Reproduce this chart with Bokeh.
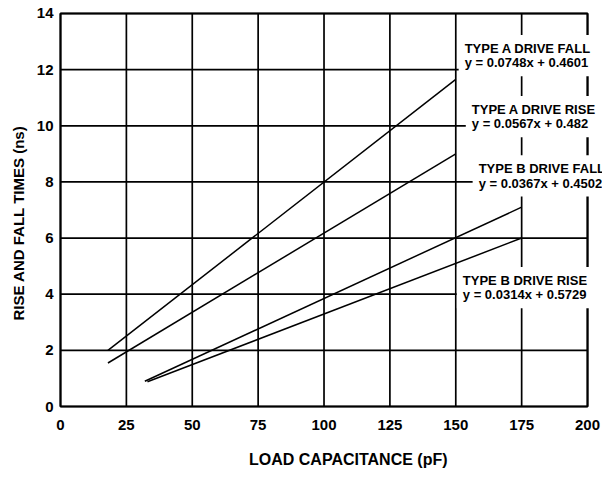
import math
from bokeh.plotting import figure
from bokeh.models import Range1d, FixedTicker, Label, Title, BoxAnnotation
from bokeh.embed import file_html
from bokeh.resources import INLINE

# ---- data ----
x_type_a = [18, 150]
a_fall = [2.0, 11.65]
a_rise = [1.55, 9.0]
x_type_b_fall = [32, 175]
b_fall = [0.90, 7.1]
x_type_b_rise = [33, 175]
b_rise = [0.88, 6.0]

x_ticks = [0, 25, 50, 75, 100, 125, 150, 175, 200]
y_ticks = [0, 2, 4, 6, 8, 10, 12, 14]

labels = [
    ("TYPE A DRIVE FALL", "y = 0.0748x + 0.4601", 151.1, 13.23),
    ("TYPE A DRIVE RISE", "y = 0.0567x + 0.482", 153.8, 11.06),
    ("TYPE B DRIVE FALL", "y = 0.0367x + 0.4502", 156.4, 8.95),
    ("TYPE B DRIVE RISE", "y = 0.0314x + 0.5729", 150.4, 4.97),
]

x_title = "LOAD CAPACITANCE (pF)"
y_title = "RISE AND FALL TIMES (ns)"

FONT = "Liberation Sans"

p = figure(width=602, height=477, output_backend="svg", toolbar_location=None,
           x_range=Range1d(-0.76, 205.68), y_range=Range1d(-0.071, 14.071),
           min_border_left=57, min_border_right=0, min_border_top=11, min_border_bottom=69)
p.background_fill_color = "white"
p.border_fill_color = "white"
p.outline_line_color = None

p.xaxis.ticker = FixedTicker(ticks=x_ticks)
p.yaxis.ticker = FixedTicker(ticks=y_ticks)
for ax in (p.xaxis, p.yaxis):
    ax.axis_line_color = None
    ax.major_tick_line_color = None
    ax.minor_tick_line_color = None
    ax.major_tick_out = 0
    ax.major_tick_in = 0
    ax.major_label_text_font = FONT
    ax.major_label_text_font_style = "bold"
    ax.major_label_text_font_size = "15px"
    ax.major_label_text_color = "black"
p.xaxis.major_label_standoff = 11
p.yaxis.major_label_standoff = 5

# x-axis title (shifted right of centre as in the reference, via leading no-break spaces)
p.xaxis.axis_label = "\u00a0" * 8 + x_title
p.xaxis.axis_label_standoff = 18
p.xaxis.axis_label_text_font = FONT
p.xaxis.axis_label_text_font_style = "bold"
p.xaxis.axis_label_text_font_size = "16px"
p.xaxis.axis_label_text_color = "black"

p.xgrid.visible = False
p.ygrid.visible = False

# grid lines limited to the data area (0..200, 0..14)
y_lo, y_hi = y_ticks[0], y_ticks[-1]
x_lo, x_hi = x_ticks[0], x_ticks[-1]
p.segment(x0=x_ticks, y0=[y_lo] * len(x_ticks), x1=x_ticks, y1=[y_hi] * len(x_ticks),
          line_color="black", line_width=1.7)
p.segment(x0=[x_lo] * len(y_ticks), y0=y_ticks, x1=[x_hi] * len(y_ticks), y1=y_ticks,
          line_color="black", line_width=1.7)

for xs, ys in ((x_type_a, a_fall), (x_type_a, a_rise),
               (x_type_b_fall, b_fall), (x_type_b_rise, b_rise)):
    p.line(xs, ys, line_color="black", line_width=1.5)

p.add_layout(BoxAnnotation(left=x_lo, right=x_hi, bottom=y_lo, top=y_hi,
                           fill_alpha=0, line_color="black", line_width=2, line_alpha=1))

for title, eq, lx, ly in labels:
    p.add_layout(Label(x=lx, y=ly, text=title + "\n" + eq,
                       text_font=FONT, text_font_style="bold", text_font_size="13px",
                       text_color="black", text_align="left", text_baseline="top",
                       text_line_height=0.95,
                       background_fill_color="white", background_fill_alpha=1,
                       padding=6))

p.add_layout(Title(text=y_title, align="left", offset=88, standoff=14,
                   text_font=FONT, text_font_style="bold", text_font_size="15px",
                   text_color="black"), "left")

open("out.html", "w").write(file_html(p, INLINE))
